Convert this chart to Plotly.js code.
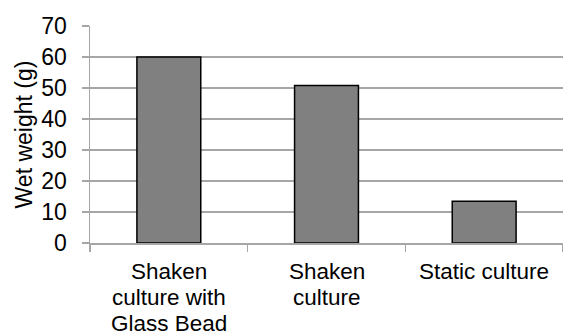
<!DOCTYPE html>
<html>
<head>
<meta charset="utf-8">
<script src="https://cdn.plot.ly/plotly-3.0.1.min.js"></script>
<style>html,body{margin:0;padding:0;background:#fff;}#chart{width:563px;height:336px;}</style>
</head>
<body>
<div id="chart"></div>
<script>
// Culture conditions (one entry per label line) and measured wet weight (g)
const categoryLines = [
  ["Shaken", "culture with", "Glass Bead"],
  ["Shaken", "culture"],
  ["Static culture"]
];
const categories = categoryLines.map(l => l.join(" "));
const wetWeight = [60, 50.8, 13.5];
const yTicks = [0, 10, 20, 30, 40, 50, 60, 70];

const font = {family: "Liberation Sans, Arial, sans-serif", size: 23, color: "#000"};
const labelFont = {family: font.family, size: 22.5, color: "#000"};
const gridGray = "#a6a6a6";

const trace = {
  type: "bar",
  x: categories,
  y: wetWeight,
  marker: {color: "#808080", line: {color: "#000", width: 1.5}},
  hoverinfo: "skip"
};

// Category labels set line by line with tight leading
const annotations = [];
categoryLines.forEach((lines, ci) => {
  lines.forEach((txt, li) => {
    annotations.push({
      xref: "x", x: categories[ci],
      yref: "paper", y: 0,
      yanchor: "middle", xanchor: "center",
      yshift: -28 - li * 26.2,
      borderpad: 0,
      text: txt, showarrow: false, font: labelFont
    });
  });
});

const layout = {
  width: 563, height: 336,
  margin: {l: 90, r: 0, t: 26, b: 93},
  paper_bgcolor: "#fff", plot_bgcolor: "#fff",
  font: font,
  showlegend: false,
  bargap: 0.595,
  annotations: annotations,
  xaxis: {
    type: "category",
    tickson: "boundaries",
    ticks: "outside", ticklen: 7, tickcolor: gridGray, tickwidth: 1.5,
    showline: true, linecolor: gridGray, linewidth: 1.5,
    showgrid: false,
    showticklabels: false
  },
  yaxis: {
    range: [0, 70],
    tickvals: yTicks,
    ticks: "outside", ticklen: 7, tickcolor: gridGray, tickwidth: 1.5,
    showline: true, linecolor: gridGray, linewidth: 1.5,
    showgrid: true, gridcolor: gridGray, gridwidth: 1.5,
    zeroline: false,
    ticklabelstandoff: 10,
    tickfont: font,
    title: {text: "Wet weight (g)", font: font, standoff: 2}
  }
};

Plotly.newPlot("chart", [trace], layout, {staticPlot: true, displayModeBar: false});
</script>
</body>
</html>
